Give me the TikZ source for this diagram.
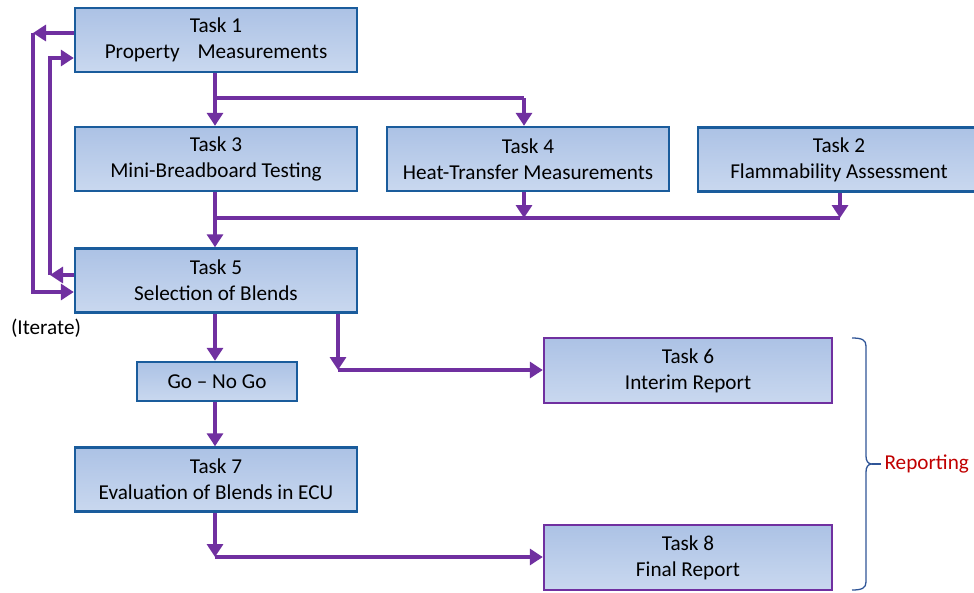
\documentclass[tikz,border=0pt]{standalone}
\usepackage{fontspec}
\setmainfont{Carlito}
\usetikzlibrary{arrows.meta,calc}
\definecolor{boxtop}{RGB}{172,194,229}
\definecolor{boxbot}{RGB}{201,216,239}
\definecolor{boxline}{RGB}{26,92,156}
\definecolor{flowpurple}{RGB}{112,48,160}
\definecolor{repred}{RGB}{192,0,0}
\definecolor{bracecol}{RGB}{47,85,151}
\tikzset{
  taskbox/.style={rectangle, draw=boxline, line width=2.4pt, top color=boxtop, bottom color=boxbot,
    minimum width=282pt, minimum height=64pt, inner sep=0pt, align=center,
    font=\fontsize{21.2}{26}\selectfont},
  reportbox/.style={taskbox, draw=flowpurple, minimum width=288pt, minimum height=65pt},
  gobox/.style={taskbox, minimum width=160pt, minimum height=39pt},
  flow/.style={draw=flowpurple, line width=4.5pt, -{Triangle[width=16pt,length=13pt]}},
  flowline/.style={draw=flowpurple, line width=4.5pt},
  plain/.style={font=\fontsize{21.2}{26}\selectfont}
}
\begin{document}
\begin{tikzpicture}[x=1pt,y=-1pt]
\useasboundingbox (0,0) rectangle (974,592);
% boxes
\node[taskbox] (t1) at (216,40) {Task 1\\Property\hspace{13pt} Measurements};
\node[taskbox] (t3) at (216,159) {Task 3\\Mini-Breadboard Testing};
\node[taskbox] (t4) at (528,159) {Task 4\\Heat-Transfer Measurements};
\node[taskbox] (t2) at (839,159.5) {Task 2\\Flammability Assessment};
\node[taskbox] (t5) at (216,280.5) {Task 5\\Selection of Blends};
\node[gobox] (go) at (217,381.5) {Go -- No Go};
\node[taskbox] (t7) at (216,479.5) {Task 7\\Evaluation of Blends in ECU};
\node[reportbox] (t6) at (688,370.5) {Task 6\\Interim Report};
\node[reportbox] (t8) at (688,557.5) {Task 8\\Final Report};
% labels
\node[plain] (iter) at (46,328) {(Iterate)};
\node[plain, text=repred, anchor=west] (rep) at (881,464) {Reporting};
% coordinates
\coordinate (j1) at (215,98);
\coordinate (j2) at (215,218);
\coordinate (j3) at (840,218);
\coordinate (o1) at (33,33);
\coordinate (o2) at (33,292);
\coordinate (i1) at (50,275);
\coordinate (i2) at (50,58);
\coordinate (c6) at (338,370);
\coordinate (c8) at (215,557);
% connectors
\draw[flow] (t1.south -| j1) -- (t3.north -| j1);
\draw[flowline] (j1) -- (j1 -| 524,0);
\draw[flow] (j1 -| 524,0) -- (t4.north -| 524,0);
\draw[flow] (t3.south -| j1) -- (t5.north -| j1);
\draw[flowline] (j2) -- (j3);
\draw[flow] (t4.south -| 524,0) -- (j2 -| 524,0);
\draw[flow] (t2.south -| j3) -- (j3);
\draw[flow] (t1.west |- o1) -- (o1);
\draw[flow] (o1) -- (o2) -- (o2 -| t5.west);
\draw[flow] (i1 -| t5.west) -- (i1);
\draw[flow] (i1) -- (i2) -- (i2 -| t1.west);
\draw[flow] (t5.south -| j1) -- (go.north -| j1);
\draw[flow] (t5.south -| c6) -- (c6);
\draw[flow] (c6) -- (c6 -| t6.west);
\draw[flow] (go.south -| j1) -- (t7.north -| j1);
\draw[flow] (t7.south -| c8) -- (c8);
\draw[flow] (c8) -- (c8 -| t8.west);
% brace
\draw[bracecol, line width=1.3pt] (852,338) .. controls (862,338) and (866,340) .. (866,346)
  -- (866,456) .. controls (866,461) and (868,464) .. (872,464)
  .. controls (868,464) and (866,467) .. (866,472)
  -- (866,582) .. controls (866,588) and (862,590) .. (852,590);
\draw[bracecol, line width=1.3pt] (872,464) -- (rep.west);
\end{tikzpicture}
\end{document}
